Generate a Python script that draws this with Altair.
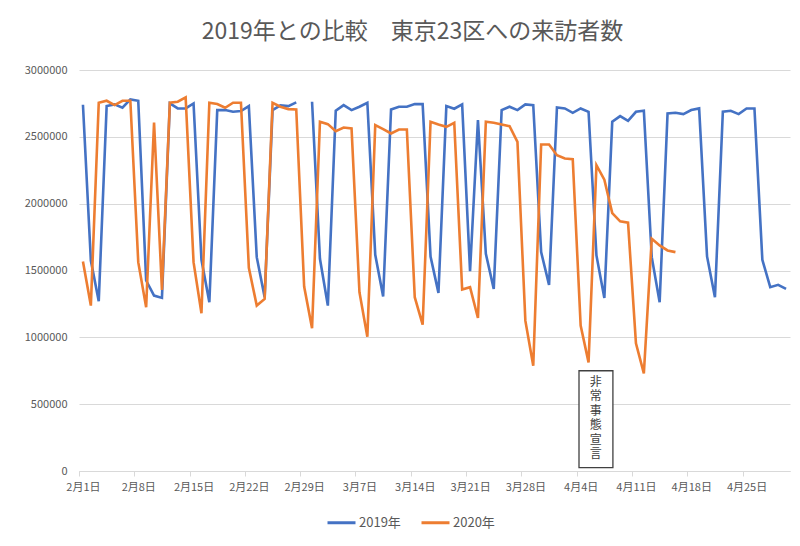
import altair as alt
import pandas as pd

# ---------------- data ----------------
start_date = "2020-02-01"
n_days = 90

visitors_2019 = [
    2740000, 1575000, 1270000, 2730000, 2742500, 2717500, 2780000, 2770000, 1425000, 1312500,
    1295000, 2750000, 2712500, 2712500, 2750000, 1580000, 1262500, 2700000, 2700000, 2687500,
    2692500, 2730000, 1600000, 1300000, 2700000, 2735000, 2730000, 2757500, None, 2762500,
    1587500, 1237500, 2695000, 2737500, 2700000, 2725000, 2755000, 1617500, 1305000, 2705000,
    2725000, 2725000, 2745000, 2745000, 1605000, 1332500, 2730000, 2710000, 2742500, 1495000,
    2625000, 1625000, 1362500, 2700000, 2725000, 2700000, 2742500, 2737500, 1637500, 1392500,
    2720000, 2712500, 2680000, 2712500, 2687500, 1612500, 1295000, 2612500, 2655000, 2620000,
    2687500, 2695000, 1600000, 1262500, 2675000, 2680000, 2670000, 2700000, 2712500, 1605000,
    1300000, 2687500, 2695000, 2670000, 2712500, 2712500, 1580000, 1375000, 1392500, 1362500,
]

visitors_2020 = [
    1567500, 1237500, 2755000, 2770000, 2737500, 2770000, 2770000, 1562500, 1225000, 2607500,
    1355000, 2755000, 2762500, 2795000, 1562500, 1180000, 2755000, 2745000, 2717500, 2755000,
    2755000, 1520000, 1237500, 1287500, 2755000, 2725000, 2707500, 2705000, 1380000, 1067500,
    2612500, 2595000, 2542500, 2570000, 2562500, 1337500, 1005000, 2587500, 2557500, 2525000,
    2555000, 2555000, 1300000, 1095000, 2612500, 2592500, 2575000, 2605000, 1357500, 1375000,
    1145000, 2612500, 2605000, 2592500, 2580000, 2462500, 1125000, 787500, 2442500, 2442500,
    2362500, 2337500, 2332500, 1087500, 812500, 2287500, 2180000, 1930000, 1867500, 1857500,
    955000, 730000, 1737500, 1687500, 1650000, 1637500,
]

series_names = ["2019年", "2020年"]
tick_dates = ["2020-02-01", "2020-02-08", "2020-02-15", "2020-02-22", "2020-02-29",
              "2020-03-07", "2020-03-14", "2020-03-21", "2020-03-28", "2020-04-04",
              "2020-04-11", "2020-04-18", "2020-04-25"]
y_ticks = [0, 500000, 1000000, 1500000, 2000000, 2500000, 3000000]

annotation_text = "非\n常\n事\n態\n宣\n言"

# ---------------- table ----------------
dates = pd.date_range(start_date, periods=n_days, freq="D").strftime("%Y-%m-%d")
rows = []
seg = 0
for d, v in zip(dates, visitors_2019):
    if v is None:
        seg += 1
        continue
    rows.append({"date": d, "value": v, "series": series_names[0], "seg": f"a{seg}"})
for d, v in zip(dates, visitors_2020):
    rows.append({"date": d, "value": v, "series": series_names[1], "seg": "b0"})
df = pd.DataFrame(rows)

FONT = "Noto Sans CJK JP"
GRAY = "#595959"

def utc_dt(s, h=0):
    y, m, dd = (int(p) for p in s.split("-"))
    return alt.DateTime(year=y, month=m, date=dd, hours=h, utc=True)

x_scale = alt.Scale(type="utc", domain=[utc_dt("2020-01-31", 12), utc_dt("2020-04-30", 12)])
y_scale = alt.Scale(domain=[0, 3000000], nice=False)

lines = alt.Chart(df).mark_line(strokeWidth=2.6).encode(
    x=alt.X("date:T", scale=x_scale, title=None,
            axis=alt.Axis(values=[utc_dt(t) for t in tick_dates], format="%-m月%-d日",
                          labelFont=FONT, labelFontSize=11, labelColor=GRAY,
                          domainColor="#d9d9d9", tickColor="#d9d9d9", tickSize=5,
                          tickOffset=-4, labelOffset=4, labelPadding=5, grid=False)),
    y=alt.Y("value:Q", scale=y_scale, title=None,
            axis=alt.Axis(values=y_ticks, format="d", labelFont=FONT, labelFontSize=11,
                          labelColor=GRAY, domain=False, ticks=False, labelPadding=12,
                          gridColor="#d9d9d9", gridWidth=1)),
    color=alt.Color("series:N", scale=alt.Scale(domain=series_names, range=["#4472C4", "#ED7D31"]),
                    legend=alt.Legend(title=None, orient="none", direction="horizontal",
                                      legendX=247, legendY=437, symbolType="stroke",
                                      symbolSize=784, symbolStrokeWidth=3, labelFont=FONT,
                                      labelFontSize=13, labelColor=GRAY, labelOffset=2,
                                      columnPadding=14)),
    detail="seg:N",
)

ann = pd.DataFrame([{
    "x1": "2020-04-03T19:00:00Z", "x2": "2020-04-08T02:00:00Z",
    "y1": 750000, "y2": 25000,
    "xc": "2020-04-05T22:00:00Z", "yc": 705000, "label": annotation_text,
}])

box = alt.Chart(ann).mark_rect(fill="white", stroke="#404040", strokeWidth=1.3).encode(
    x="x1:T", x2="x2:T", y="y1:Q", y2="y2:Q")
txt = alt.Chart(ann).mark_text(lineBreak="\n", font=FONT, fontSize=12, lineHeight=14.5,
                               color="#404040", baseline="top", align="center").encode(
    x="xc:T", y="yc:Q", text="label:N")

chart = alt.layer(lines, box, txt).properties(
    width=711, height=401,
    autosize=alt.AutoSizeParams(type="none"),
    padding={"left": 71, "top": 62, "right": 2, "bottom": 67},
    title=alt.TitleParams("2019年との比較　東京23区への来訪者数", font=FONT, fontSize=23,
                          fontWeight="normal", color=GRAY, anchor="middle", dx=-22, offset=20),
).configure_view(stroke=None)

chart.save("out.html", embed_options={"renderer": "svg", "actions": False})
